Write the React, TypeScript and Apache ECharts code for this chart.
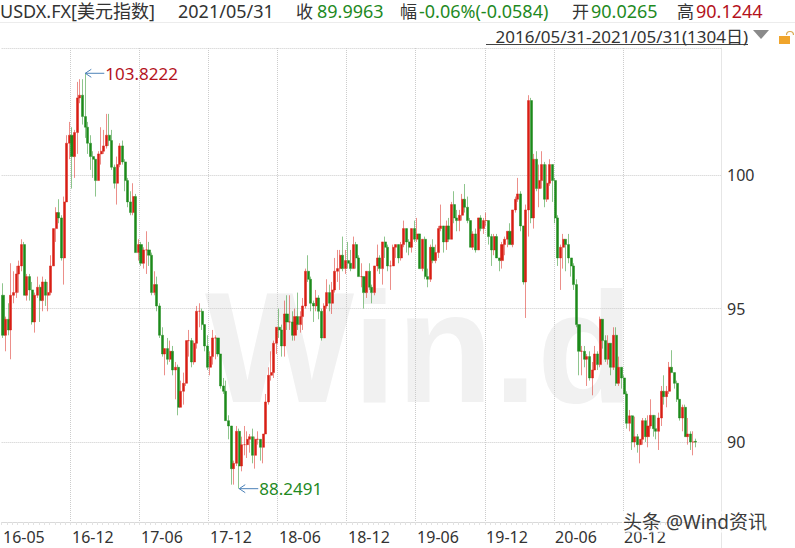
import React, { useEffect, useRef } from 'react';
import * as echarts from 'echarts';

// ---- data: weekly candles [open, close, low, high], week starting Monday 2016-05-30 ----
const ohlc2016: number[][] = [
  [95.5, 94.0, 93.9, 95.95], [94.0, 94.6, 93.4, 94.7], [94.6, 94.2, 94.0, 95.2], [94.2, 95.5, 93.1, 96.7],
  [95.5, 95.6, 95.2, 96.4], [95.6, 96.3, 95.4, 96.6], [96.3, 96.6, 95.6, 96.8], [96.6, 97.4, 96.4, 97.6],
  [97.4, 95.5, 95.5, 97.5], [95.5, 96.2, 95.3, 96.3], [96.2, 95.7, 95.3, 96.3], [95.7, 94.5, 94.4, 96.0],
  [94.5, 95.5, 94.1, 95.6], [95.5, 95.8, 95.4, 96.2], [95.8, 95.3, 94.5, 95.9], [95.3, 96.0, 94.9, 96.2],
  [96.0, 95.5, 95.1, 96.1], [95.5, 95.6, 94.9, 96.0], [95.6, 96.6, 95.5, 97.0], [96.6, 98.0, 96.6, 98.0],
  [98.0, 98.6, 97.5, 98.8], [98.6, 98.4, 98.2, 99.1], [98.4, 96.9, 96.8, 98.5], [96.9, 99.0, 95.9, 99.2],
  [99.0, 101.2, 99.0, 101.5], [101.2, 101.5, 100.6, 102.0], [101.5, 100.7, 99.5, 101.8], [100.7, 101.6, 99.9, 101.7],
  [101.6, 102.9, 100.8, 103.5], [102.9, 103.0, 102.7, 103.6], [103.0, 102.2, 101.9, 103.6],
];
const ohlc2017: number[][] = [
  [102.2, 101.8, 101.4, 103.8222], [101.8, 101.2, 100.8, 102.0], [101.2, 100.7, 100.2, 101.5], [100.7, 100.6, 99.9, 100.9],
  [100.6, 99.8, 99.2, 100.6], [99.8, 100.8, 99.8, 100.9], [100.8, 100.9, 100.4, 101.8], [100.9, 101.1, 100.8, 101.7],
  [101.1, 101.5, 101.0, 102.3], [101.5, 101.3, 101.1, 102.3], [101.3, 100.3, 100.2, 101.7], [100.3, 99.7, 99.5, 100.4],
  [99.7, 100.4, 98.9, 100.7], [100.4, 101.1, 100.3, 101.2], [101.1, 100.5, 100.4, 101.3], [100.5, 99.8, 99.4, 100.6],
  [99.8, 99.0, 98.8, 99.9], [99.0, 98.6, 98.5, 99.4], [98.6, 99.2, 98.5, 99.7], [99.2, 97.1, 97.1, 99.3],
  [97.1, 97.4, 96.8, 97.6], [97.4, 96.7, 96.6, 97.5], [96.7, 97.2, 96.5, 97.3], [97.2, 97.2, 96.3, 97.9],
  [97.2, 97.0, 96.6, 97.5], [97.0, 95.6, 95.5, 97.1], [95.6, 95.9, 95.5, 96.4], [95.9, 95.1, 94.9, 96.2],
  [95.1, 94.0, 93.9, 95.2], [94.0, 93.3, 93.2, 94.3], [93.3, 93.5, 92.5, 93.5], [93.5, 93.1, 92.9, 93.9],
  [93.1, 93.4, 93.0, 93.8], [93.4, 92.7, 92.5, 93.6], [92.7, 92.8, 91.6, 93.0], [92.8, 91.3, 91.0, 92.9],
  [91.3, 91.9, 91.3, 92.3], [91.9, 92.2, 91.4, 92.6], [92.2, 93.8, 92.1, 93.8], [93.8, 93.8, 93.2, 94.2],
  [93.8, 93.0, 92.8, 93.9], [93.0, 93.7, 92.9, 93.8], [93.7, 94.9, 93.5, 95.1], [94.9, 94.9, 94.3, 95.2],
  [94.9, 94.4, 94.2, 95.0], [94.4, 93.6, 93.4, 94.4], [93.6, 92.8, 92.7, 94.0], [92.8, 93.2, 92.5, 93.4],
  [93.2, 93.9, 92.9, 94.2], [93.9, 93.9, 93.1, 94.0], [93.9, 93.3, 93.2, 93.9], [93.3, 92.1, 92.0, 93.3],
];
const ohlc2018: number[][] = [
  [92.1, 91.9, 91.8, 92.4], [91.9, 90.8, 90.8, 92.3], [90.8, 90.6, 90.1, 91.0], [90.6, 89.0, 88.4, 90.6],
  [89.0, 89.2, 88.4, 89.3], [89.2, 90.4, 89.1, 90.6], [90.4, 89.1, 88.2491, 90.5], [89.1, 89.9, 88.9, 90.2],
  [89.9, 89.9, 89.5, 90.6], [89.9, 90.1, 89.4, 90.4], [90.1, 90.2, 89.6, 90.3], [90.2, 89.5, 89.2, 90.5],
  [89.5, 90.1, 89.0, 90.2], [90.1, 90.1, 89.9, 90.4], [90.1, 89.8, 89.3, 90.1], [89.8, 90.3, 89.2, 90.3],
  [90.3, 91.5, 90.3, 91.8], [91.5, 92.5, 91.4, 92.8], [92.5, 92.6, 92.3, 93.4], [92.6, 93.7, 92.4, 93.8],
  [93.7, 94.3, 93.3, 94.3], [94.3, 94.2, 93.9, 95.0], [94.2, 93.6, 93.2, 94.4], [93.6, 94.8, 93.2, 95.3],
  [94.8, 94.5, 94.2, 95.5], [94.5, 94.5, 94.2, 95.5], [94.5, 94.0, 93.8, 94.9], [94.0, 94.7, 93.8, 95.0],
  [94.7, 94.4, 94.2, 95.6], [94.4, 94.7, 94.1, 94.9], [94.7, 95.1, 94.2, 95.4], [95.1, 96.4, 95.0, 96.5],
  [96.4, 96.1, 96.0, 97.0], [96.1, 95.2, 94.9, 96.2], [95.2, 95.1, 94.5, 95.3], [95.1, 95.4, 94.9, 95.7],
  [95.4, 94.9, 94.6, 95.5], [94.9, 93.9, 93.8, 95.0], [93.9, 95.1, 93.9, 95.2], [95.1, 95.6, 95.0, 96.1],
  [95.6, 95.2, 94.9, 95.9], [95.2, 95.7, 94.8, 96.0], [95.7, 96.4, 95.6, 96.9], [96.4, 96.5, 96.0, 97.2],
  [96.5, 97.0, 95.7, 97.2], [97.0, 96.5, 96.4, 97.7], [96.5, 96.8, 96.3, 97.2], [96.8, 96.7, 96.5, 97.5],
  [96.7, 96.5, 96.4, 97.2], [96.5, 97.4, 96.5, 97.7], [97.4, 96.9, 96.5, 97.5], [96.9, 96.2, 96.2, 97.0],
];
const ohlc2019: number[][] = [
  [96.2, 96.2, 95.8, 96.7], [96.2, 95.6, 95.0, 96.2], [95.6, 96.4, 95.4, 96.4], [96.4, 95.8, 95.7, 96.7],
  [95.8, 95.6, 95.2, 95.9], [95.6, 96.6, 95.5, 96.6], [96.6, 96.9, 96.4, 97.4], [96.9, 96.5, 96.3, 97.0],
  [96.5, 97.5, 95.9, 97.5], [97.5, 97.3, 96.9, 97.7], [97.3, 96.6, 96.4, 97.4], [96.6, 96.6, 95.7, 96.8],
  [96.6, 97.3, 96.6, 97.4], [97.3, 97.4, 96.9, 97.4], [97.4, 96.9, 96.7, 97.4], [96.9, 97.4, 96.8, 97.5],
  [97.4, 98.0, 97.3, 98.3], [98.0, 97.5, 97.1, 98.0], [97.5, 97.3, 97.0, 97.6], [97.3, 98.0, 97.1, 98.0],
  [98.0, 97.6, 97.5, 98.3], [97.6, 97.8, 97.5, 98.4], [97.8, 96.5, 96.5, 97.8], [96.5, 97.6, 96.4, 97.6],
  [97.6, 96.2, 96.1, 97.7], [96.2, 96.1, 95.8, 96.5], [96.1, 97.3, 96.0, 97.4], [97.3, 96.8, 96.7, 97.6],
  [96.8, 97.1, 96.7, 97.4], [97.1, 98.0, 96.9, 98.1], [98.0, 98.1, 97.9, 98.9], [98.1, 97.5, 97.1, 98.1],
  [97.5, 98.1, 97.2, 98.3], [98.1, 97.6, 97.5, 98.4], [97.6, 98.9, 97.6, 99.0], [98.9, 98.4, 98.2, 99.4],
  [98.4, 98.3, 97.9, 98.7], [98.3, 98.5, 97.9, 98.7], [98.5, 99.1, 98.3, 99.3], [99.1, 98.8, 98.6, 99.67],
  [98.8, 98.3, 98.2, 99.2], [98.3, 97.3, 97.3, 98.4], [97.3, 97.8, 97.2, 97.9], [97.8, 97.2, 97.1, 98.0],
  [97.2, 98.4, 97.2, 98.4], [98.4, 98.0, 97.9, 98.5], [98.0, 98.3, 97.8, 98.4], [98.3, 98.3, 98.1, 98.6],
  [98.3, 97.7, 97.4, 98.3], [97.7, 97.2, 96.6, 97.8], [97.2, 97.7, 97.0, 97.8], [97.7, 96.9, 96.9, 97.8],
];
const ohlc2020: number[][] = [
  [96.9, 96.8, 96.4, 96.9], [96.8, 97.4, 96.5, 97.5], [97.4, 97.6, 97.0, 97.7], [97.6, 97.9, 97.3, 97.9],
  [97.9, 97.4, 97.4, 98.2], [97.4, 98.7, 97.3, 98.7], [98.7, 99.1, 98.6, 99.2], [99.1, 99.3, 99.0, 99.9],
  [99.3, 98.1, 97.9, 99.4], [98.1, 96.0, 95.9, 98.1], [96.0, 98.7, 94.65, 98.9], [98.7, 102.8, 97.7, 103.0],
  [102.8, 98.4, 98.2, 102.9], [98.4, 100.6, 98.0, 100.8], [100.6, 99.5, 99.4, 100.9], [99.5, 99.8, 98.8, 100.4],
  [99.8, 100.4, 99.5, 100.9], [100.4, 99.1, 98.8, 100.5], [99.1, 99.7, 99.0, 100.4], [99.7, 100.4, 99.6, 100.6],
  [100.4, 99.8, 99.0, 100.4], [99.8, 98.4, 98.2, 99.9], [98.4, 96.9, 96.6, 98.5], [96.9, 97.3, 95.7, 97.4],
  [97.3, 97.6, 96.5, 97.8], [97.6, 97.4, 96.4, 97.6], [97.4, 96.9, 96.7, 97.8], [96.9, 96.6, 96.2, 96.9],
  [96.6, 95.9, 95.7, 96.7], [95.9, 94.4, 94.3, 96.1], [94.4, 93.4, 92.5, 94.4], [93.4, 93.4, 92.5, 93.6],
  [93.4, 93.1, 92.8, 93.6], [93.1, 93.2, 92.1, 93.3], [93.2, 92.4, 92.3, 93.4], [92.4, 92.7, 91.75, 93.0],
  [92.7, 93.3, 92.7, 93.6], [93.3, 92.9, 92.7, 93.4], [92.9, 94.6, 92.8, 94.7], [94.6, 93.8, 93.5, 94.6],
  [93.8, 93.1, 93.0, 94.0], [93.1, 93.7, 92.9, 94.0], [93.7, 92.8, 92.5, 93.7], [92.8, 94.0, 92.7, 94.3],
  [94.0, 92.2, 92.1, 94.3], [92.2, 92.8, 92.1, 93.2], [92.8, 92.4, 92.0, 92.8], [92.4, 91.8, 91.8, 92.5],
  [91.8, 90.7, 90.5, 91.9], [90.7, 90.98, 90.4, 91.2], [90.98, 90.0, 89.7, 91.0], [90.0, 90.2, 89.8, 90.95],
  [90.2, 89.9, 89.6, 90.3],
];
const ohlc2021: number[][] = [
  [89.9, 90.1, 89.2, 90.1], [90.1, 90.8, 89.9, 90.9], [90.8, 90.2, 90.0, 90.9], [90.2, 90.6, 89.8, 91.0],
  [90.6, 91.0, 90.5, 91.6], [91.0, 90.5, 90.2, 91.0], [90.5, 90.4, 90.1, 91.0], [90.4, 90.9, 89.7, 91.1],
  [90.9, 91.9, 90.6, 92.1], [91.9, 91.7, 91.4, 92.5], [91.7, 91.9, 91.3, 92.1], [91.9, 92.8, 91.8, 93.0],
  [92.8, 92.6, 92.6, 93.44], [92.6, 92.2, 92.0, 92.6], [92.2, 91.6, 91.5, 92.3], [91.6, 90.9, 90.8, 91.6],
  [90.9, 91.3, 90.4, 91.4], [91.3, 90.2, 90.2, 91.4], [90.2, 90.3, 89.9, 90.9], [90.3, 90.0, 89.7, 90.4],
  [90.0, 90.0, 89.5, 90.4], [90.0265, 89.9963, 89.8, 90.1244],
];

const firstWeekUTC = Date.UTC(2016, 4, 30);
const axisWeeks = 271;
const xLabelIndex = [0, 26, 52, 78, 104, 130, 156, 182, 208, 234];
const xLabelText = ['16-05', '16-12', '17-06', '17-12', '18-06', '18-12', '19-06', '19-12', '20-06', '20-12'];
const yTickValues = [90, 95, 100];
const yMin = 87;
const yMax = 104.77;

const headerCode = 'USDX.FX[美元指数]';
const headerDate = '2021/05/31';
const headerClose = '89.9963';
const headerChange = '-0.06%(-0.0584)';
const headerOpen = '90.0265';
const headerHigh = '90.1244';
const headerRange = '2016/05/31-2021/05/31(1304日)';

const FONT = '"Noto Sans", "Noto Sans CJK SC", sans-serif';
const UP = '#d81e14';
const DOWN = '#1c8a1a';
const GREEN_TXT = '#1f8a1f';
const RED_TXT = '#b4121c';

function buildCategories(): string[] {
  const out: string[] = [];
  for (let i = 0; i < axisWeeks; i++) {
    out.push(new Date(firstWeekUTC + i * 7 * 86400000).toISOString().slice(0, 10));
  }
  return out;
}

function txt(id: string, x: number, y: number, text: string, fill: string, size: number, extra: any = {}) {
  return {
    type: 'text', id, x, y, z: 10,
    style: { text, fill, fontSize: size, fontFamily: FONT, verticalAlign: 'middle', align: 'left', ...extra },
  };
}

export default function App() {
  const ref = useRef<HTMLDivElement>(null);
  useEffect(() => {
    if (!ref.current) return;
    const chart = echarts.init(ref.current, undefined, { renderer: 'svg' });
    const categories = buildCategories();
    const candles = [...ohlc2016, ...ohlc2017, ...ohlc2018, ...ohlc2019, ...ohlc2020, ...ohlc2021];

    const staticGraphic: any[] = [
      // watermark
      {
        type: 'text', id: 'wm', x: 205, y: 347, z: -10, silent: true,
        style: { text: 'Win.d', fill: '#f1f1f1', fontSize: 158, fontWeight: 'bold', fontFamily: '"Liberation Sans Narrow", "Liberation Sans", sans-serif', verticalAlign: 'middle', align: 'left' },
      },
      // header
      txt('h1', 0, 11, headerCode, '#333', 18),
      txt('h2', 178, 11, headerDate, '#333', 18),
      txt('h3', 296, 11, '收', '#333', 17),
      txt('h4', 317, 11, headerClose, GREEN_TXT, 18),
      txt('h5', 400, 11, '幅', '#333', 17),
      txt('h6', 419, 11, headerChange, GREEN_TXT, 18),
      txt('h7', 572, 11, '开', '#333', 17),
      txt('h8', 591, 11, headerOpen, GREEN_TXT, 18),
      txt('h9', 677, 11, '高', '#333', 17),
      txt('h10', 696, 11, headerHigh, RED_TXT, 18),
      { type: 'line', id: 'sep1', z: 5, shape: { x1: 0, y1: 22.5, x2: 795, y2: 22.5 }, style: { stroke: '#ececec', lineWidth: 1 } },
      txt('range', 748, 36, headerRange, '#333', 17, { align: 'right' }),
      { type: 'line', id: 'rangeUl', z: 5, shape: { x1: 486, y1: 44.5, x2: 748, y2: 44.5 }, style: { stroke: '#444', lineWidth: 1 } },
      { type: 'polygon', id: 'tri', z: 5, shape: { points: [[753, 30], [769, 30], [761, 39]] }, style: { fill: '#8a8a8a' } },
      { type: 'rect', id: 'lockBody', z: 5, shape: { x: 779, y: 36, width: 11, height: 8 }, style: { fill: '#f0a52c' } },
      { type: 'arc', id: 'lockArc', z: 5, shape: { cx: 790, cy: 35, r: 3.5, startAngle: Math.PI, endAngle: 2 * Math.PI }, style: { stroke: '#d9a950', lineWidth: 1.2, fill: 'none' } },
      { type: 'line', id: 'yExt', z: 5, shape: { x1: 721.5, y1: 522, x2: 721.5, y2: 548 }, style: { stroke: '#e6e6e6', lineWidth: 1 } },
      // bottom right source
      txt('src', 623, 522, '头条 @Wind资讯', '#3c3c3c', 19, { textBorderColor: 'rgba(255,255,255,0.85)', textBorderWidth: 2 }),
    ];

    const option: any = {
      animation: false,
      grid: { left: 0, right: 74, top: 48, bottom: 26, containLabel: false },
      xAxis: {
        type: 'category', data: categories, boundaryGap: true,
        axisLine: { show: true, lineStyle: { color: '#d9d9d9' } },
        axisTick: { show: true, interval: 1, length: 3, lineStyle: { color: '#e2e2e2' } },
        axisLabel: {
          interval: (i: number) => xLabelIndex.includes(i),
          formatter: (_v: string, i: number) => {
            const k = xLabelIndex.indexOf(i);
            return k >= 0 ? xLabelText[k] : '';
          },
          align: 'left', color: '#333', fontSize: 16, margin: 7, fontFamily: FONT,
        },
        splitLine: {
          show: true,
          interval: (i: number) => xLabelIndex.includes(i) && i > 0,
          lineStyle: { type: 'dotted', color: '#cccccc', width: 1 },
        },
      },
      yAxis: {
        type: 'value', position: 'right', min: yMin, max: yMax, splitNumber: 3,
        axisLine: { show: true, lineStyle: { color: '#e6e6e6' } },
        axisTick: { show: false },
        axisLabel: {
          color: '#333', fontSize: 16, margin: 6, fontFamily: FONT, showMinLabel: false, showMaxLabel: false,
          formatter: (v: number) => (yTickValues.includes(Math.round(v * 1000) / 1000) ? String(v) : ''),
        },
        splitLine: { show: true, lineStyle: { type: 'dotted', color: '#cccccc', width: 1 } },
      },
      series: [
        {
          type: 'candlestick', data: candles, barWidth: '96%',
          itemStyle: { color: UP, color0: DOWN, borderColor: UP, borderColor0: DOWN, borderWidth: 0.5 },
        },
      ],
      graphic: staticGraphic,
    };
    chart.setOption(option);

    // annotate extreme high / low through the chart's own scales
    let hiI = 0;
    let loI = 0;
    candles.forEach((d, i) => {
      if (d[3] > candles[hiI][3]) hiI = i;
      if (d[2] < candles[loI][2]) loI = i;
    });
    const pHi = chart.convertToPixel({ gridIndex: 0 }, [hiI, candles[hiI][3]]) as number[];
    const pLo = chart.convertToPixel({ gridIndex: 0 }, [loI, candles[loI][2]]) as number[];
    const ann = (id: string, p: number[], label: string, color: string) => [
      { type: 'line', id: id + 'l', z: 8, shape: { x1: p[0], y1: p[1], x2: p[0] + 19, y2: p[1] }, style: { stroke: '#4d82b8', lineWidth: 1 } },
      { type: 'polyline', id: id + 'a', z: 8, shape: { points: [[p[0] + 6, p[1] - 4], [p[0], p[1]], [p[0] + 6, p[1] + 4]] }, style: { stroke: '#4d82b8', lineWidth: 1, fill: 'none' } },
      txt(id + 't', p[0] + 20, p[1], label, color, 17),
    ];
    chart.setOption({
      graphic: [
        ...staticGraphic,
        ...ann('hi', pHi, candles[hiI][3].toFixed(4), RED_TXT),
        ...ann('lo', pLo, candles[loI][2].toFixed(4), GREEN_TXT),
      ],
    });

    return () => chart.dispose();
  }, []);

  return <div ref={ref} style={{ position: 'fixed', left: 0, top: 0, width: 795, height: 548, background: '#fff' }} />;
}
